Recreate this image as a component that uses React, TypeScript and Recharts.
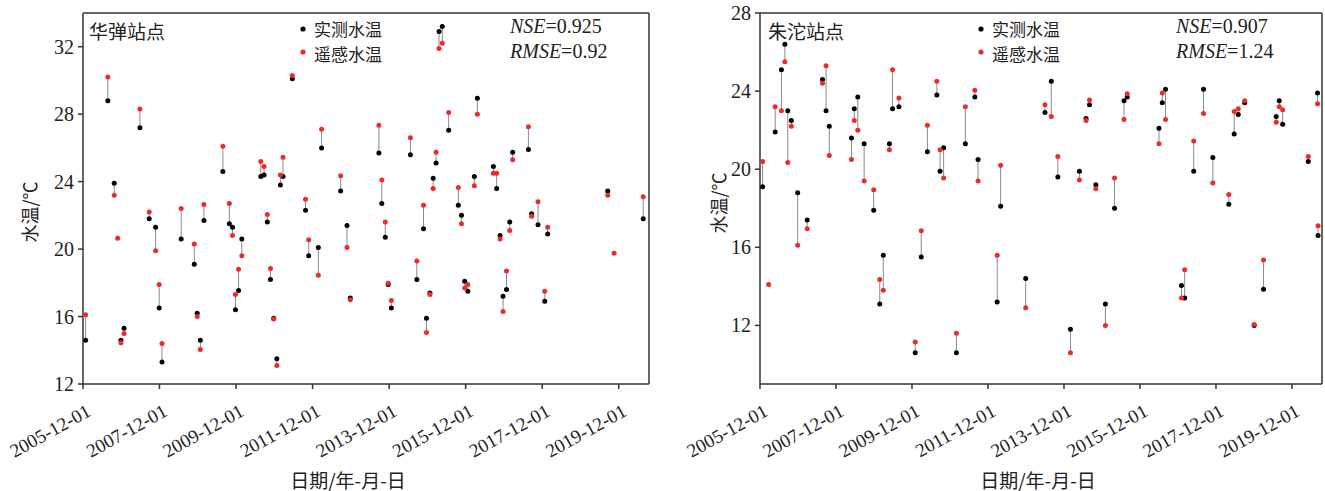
import React from "react";
import {
  ScatterChart,
  Scatter,
  XAxis,
  YAxis,
  ReferenceLine,
} from "recharts";

// 华弹站点
const HUADAN_DATES = [
  "2005-12-26", "2006-07-26", "2006-09-25", "2006-10-28", "2006-11-28", "2006-12-28",
  "2007-05-28", "2007-08-25", "2007-10-25", "2007-11-28", "2007-12-25", "2008-06-25",
  "2008-10-28", "2008-11-25", "2008-12-25", "2009-01-28", "2009-07-28", "2009-09-28",
  "2009-10-28", "2009-11-25", "2009-12-25", "2010-01-25", "2010-07-25", "2010-08-25",
  "2010-09-25", "2010-10-25", "2010-11-25", "2010-12-25", "2011-01-28", "2011-02-22",
  "2011-05-22", "2011-09-25", "2011-10-25", "2012-01-25", "2012-02-25", "2012-08-25",
  "2012-10-25", "2012-11-25", "2013-08-25", "2013-09-22", "2013-10-25", "2013-11-22",
  "2013-12-22", "2014-06-22", "2014-08-22", "2014-10-25", "2014-11-22", "2014-12-25",
  "2015-01-25", "2015-02-22", "2015-03-22", "2015-04-22", "2015-06-22", "2015-09-22",
  "2015-10-22", "2015-11-22", "2015-12-22", "2016-02-22", "2016-03-22", "2016-08-22",
  "2016-09-22", "2016-10-25", "2016-11-22", "2016-12-25", "2017-01-25", "2017-02-22",
  "2017-07-22", "2017-08-22", "2017-10-22", "2017-12-25", "2018-01-22", "2019-08-18",
  "2019-10-18", "2020-07-22",
];
const HUADAN_MEASURED = [
  14.6, 28.8, 23.9, null, 14.6, 15.3,
  27.2, 21.8, 21.3, 16.5, 13.3, 20.6,
  19.1, 16.2, 14.6, 21.7, 24.6, 21.5,
  21.3, 16.4, 17.55, 20.6, 24.3, 24.4,
  21.6, 18.2, 15.9, 13.5, 23.8, 24.3,
  30.1, 22.3, 19.6, 20.1, 26.0, 23.45,
  21.4, 17.1, 25.7, 22.7, 20.7, 17.9,
  16.5, 25.6, 18.2, 21.2, 15.9, 17.4,
  24.2, 25.1, 32.9, 33.2, 27.05, 22.6,
  22.0, 18.1, 17.5, 24.3, 28.95, 24.9,
  23.6, 20.8, 17.2, 17.6, 21.6, 25.75,
  25.9, 22.1, 21.45, 16.9, 20.9, 23.45,
  null, 21.8,
];
const HUADAN_REMOTE = [
  16.1, 30.2, 23.2, 20.65, 14.45, 15.0,
  28.3, 22.2, 19.9, 17.9, 14.4, 22.4,
  20.3, 16.0, 14.05, 22.65, 26.1, 22.7,
  20.8, 17.3, 18.8, 19.6, 25.2, 24.9,
  22.05, 18.85, 15.85, 13.1, 24.4, 25.45,
  30.3, 22.95, 20.55, 18.45, 27.1, 24.35,
  20.1, 17.0, 27.35, 24.1, 21.6, 17.97,
  16.95, 26.6, 19.3, 22.6, 15.05, 17.3,
  23.6, 25.75, 31.9, 32.2, 28.1, 23.65,
  21.5, 17.7, 17.9, 23.75, 28.0, 24.5,
  24.5, 20.6, 16.3, 18.7, 21.1, 25.3,
  27.25, 21.95, 22.8, 17.5, 21.3, 23.2,
  19.75, 23.1,
];

// 朱沱站点
const ZHUTUO_DATES = [
  "2005-12-26", "2006-02-22", "2006-04-26", "2006-06-25", "2006-07-28", "2006-08-25",
  "2006-09-28", "2006-11-28", "2007-02-28", "2007-07-25", "2007-08-28", "2007-09-28",
  "2008-04-28", "2008-05-25", "2008-06-28", "2008-08-28", "2008-11-28", "2009-01-25",
  "2009-02-28", "2009-04-28", "2009-05-28", "2009-07-28", "2010-01-01", "2010-02-28",
  "2010-04-28", "2010-07-28", "2010-08-28", "2010-10-01", "2011-02-01", "2011-04-28",
  "2011-07-28", "2011-08-28", "2012-02-28", "2012-04-01", "2012-11-28", "2013-06-01",
  "2013-08-01", "2013-10-03", "2014-02-01", "2014-04-28", "2014-07-01", "2014-08-03",
  "2014-10-03", "2015-01-03", "2015-04-01", "2015-07-01", "2015-08-01", "2016-06-01",
  "2016-07-03", "2016-08-03", "2017-01-03", "2017-02-03", "2017-05-01", "2017-08-03",
  "2017-11-01", "2018-04-03", "2018-05-25", "2018-07-03", "2018-09-03", "2018-12-03",
  "2019-03-03", "2019-07-03", "2019-08-01", "2019-09-03", "2020-05-06", "2020-08-03",
  "2020-08-08",
];
const ZHUTUO_MEASURED = [
  19.1, null, 21.9, 25.1, 26.4, 23.0,
  22.5, 18.8, 17.4, 24.6, 23.0, 22.2,
  21.6, 23.1, 23.7, 21.3, 17.9, 13.1,
  15.6, 21.3, 23.1, 23.2, 10.6, 15.5,
  20.9, 23.8, 19.9, 21.1, 10.6, 21.3,
  23.7, 20.5, 13.2, 18.1, 14.4, 22.9,
  24.5, 19.6, 11.8, 19.9, 22.6, 23.3,
  19.2, 13.1, 18.0, 23.5, 23.7, 22.1,
  23.4, 24.1, 14.05, 13.4, 19.9, 24.1,
  20.6, 18.2, 21.8, 22.8, 23.4, 12.0,
  13.85, 22.7, 23.5, 22.3, 20.4, 23.9,
  16.6,
];
const ZHUTUO_REMOTE = [
  20.4, 14.1, 23.2, 23.0, 25.5, 20.35,
  22.2, 16.1, 16.95, 24.4, 25.3, 20.7,
  20.5, 22.5, 22.0, 19.4, 18.95, 14.35,
  13.8, 21.0, 25.1, 23.65, 11.15, 16.85,
  22.25, 24.5, 21.0, 19.55, 11.6, 23.2,
  24.05, 19.4, 15.6, 20.2, 12.9, 23.3,
  22.7, 20.65, 10.6, 19.45, 22.5, 23.55,
  19.0, 12.0, 19.55, 22.55, 23.87, 21.3,
  23.9, 22.55, 13.4, 14.85, 21.45, 22.85,
  19.3, 18.7, 22.95, 23.1, 23.5, 12.05,
  15.35, 22.4, 23.2, 23.05, 20.65, 23.35,
  17.1,
];

const DATE_TICKS = [
  "2005-12-01", "2007-12-01", "2009-12-01", "2011-12-01",
  "2013-12-01", "2015-12-01", "2017-12-01", "2019-12-01",
];
const DATE_DOMAIN = ["2005-12-01", "2020-09-15"];
const HUADAN_TEMP_TICKS = [12, 16, 20, 24, 28, 32];
const ZHUTUO_TEMP_TICKS = [12, 16, 20, 24, 28];

const SERIF = "'Liberation Serif', 'Times New Roman', serif";
const CJK = "'Noto Sans CJK SC', sans-serif";
const AXIS = "#333";

function DateTick({ x, y, payload }: any) {
  const label = new Date(payload.value).toISOString().slice(0, 10);
  return (
    <g transform={`translate(${x + 9},${y + 24}) rotate(-29)`}>
      <text textAnchor="end" fontFamily={SERIF} fontSize={19} fill="#222">
        {label}
      </text>
    </g>
  );
}

function TempTick({ x, y, payload }: any) {
  return (
    <text x={x - 2} y={y} dy={7} textAnchor="end" fontFamily={SERIF} fontSize={20} fill="#222">
      {payload.value}
    </text>
  );
}

function StationChart({
  left, width, plotLeft, dates, measured, remote, yDomain, yTicks,
  title, nse, rmse, text,
}: any) {
  const times = dates.map((d: string) => Date.parse(d));
  const measuredPts = times
    .map((t: number, i: number) => ({ t, v: measured[i] }))
    .filter((p: any) => p.v !== null);
  const remotePts = times.map((t: number, i: number) => ({ t, v: remote[i] }));
  const xDomain = DATE_DOMAIN.map((d) => Date.parse(d));

  return (
    <div style={{ position: "absolute", left, top: 0, width, height: 491 }}>
      <ScatterChart
        width={width}
        height={491}
        margin={{ top: 13, right: width - text.plotRight, bottom: 0, left: 0 }}
      >
        <XAxis
          dataKey="t"
          type="number"
          domain={xDomain}
          ticks={DATE_TICKS.map((d) => Date.parse(d))}
          height={107}
          tickSize={5}
          tick={<DateTick />}
          interval={0}
          stroke={AXIS}
          strokeWidth={1.5}
          allowDataOverflow
        />
        <YAxis
          dataKey="v"
          type="number"
          domain={yDomain}
          ticks={yTicks}
          width={plotLeft}
          tickSize={5}
          tick={<TempTick />}
          interval={0}
          stroke={AXIS}
          strokeWidth={1.5}
          allowDataOverflow
        />
        <ReferenceLine y={yDomain[1]} stroke={AXIS} strokeWidth={1.5} />
        <ReferenceLine x={xDomain[1]} stroke={AXIS} strokeWidth={1.5} />
        {times.map((t: number, i: number) =>
          measured[i] === null ? null : (
            <ReferenceLine
              key={i}
              segment={[
                { x: t, y: measured[i] },
                { x: t, y: remote[i] },
              ]}
              stroke="#8a8a8a"
              strokeWidth={1}
            />
          )
        )}
        <Scatter
          data={measuredPts}
          isAnimationActive={false}
          shape={(p: any) => <circle cx={p.cx} cy={p.cy} r={2.5} fill="#000" />}
        />
        <Scatter
          data={remotePts}
          isAnimationActive={false}
          shape={(p: any) => <circle cx={p.cx} cy={p.cy} r={2.5} fill="#ee2a2a" />}
        />
      </ScatterChart>

      <svg
        width={width}
        height={491}
        style={{ position: "absolute", left: 0, top: 0, pointerEvents: "none" }}
      >
        <text x={text.titleX} y={30} dominantBaseline="central" fontFamily={CJK} fontSize={19} fill="#222">
          {title}
        </text>

        <circle cx={text.legendX} cy={29} r={2.6} fill="#000" />
        <text x={text.legendX + 11} y={28.5} dominantBaseline="central" fontFamily={CJK} fontSize={17} fill="#222">
          实测水温
        </text>
        <circle cx={text.legendX} cy={52} r={2.6} fill="#ee2a2a" />
        <text x={text.legendX + 11} y={53} dominantBaseline="central" fontFamily={CJK} fontSize={17} fill="#222">
          遥感水温
        </text>

        <text x={text.statX} y={33} fontFamily={SERIF} fontSize={20} fill="#222">
          <tspan fontStyle="italic">NSE</tspan>={nse}
        </text>
        <text x={text.statX} y={58} fontFamily={SERIF} fontSize={20} fill="#222">
          <tspan fontStyle="italic">RMSE</tspan>={rmse}
        </text>

        <text
          x={text.yLabelX}
          y={text.yLabelY}
          transform={`rotate(-90 ${text.yLabelX} ${text.yLabelY})`}
          textAnchor="middle"
          dominantBaseline="central"
          fontFamily={CJK}
          fontSize={18}
          fill="#222"
        >
          水温/℃
        </text>
        <text
          x={text.xLabelX}
          y={479}
          textAnchor="middle"
          dominantBaseline="central"
          fontFamily={CJK}
          fontSize={19}
          fill="#222"
        >
          日期/年-月-日
        </text>
      </svg>
    </div>
  );
}

export default function App() {
  return (
    <div
      style={{
        position: "absolute",
        left: 0,
        top: 0,
        width: 1325,
        height: 491,
        background: "#fff",
      }}
    >
      <StationChart
        left={0}
        width={660}
        plotLeft={83}
        dates={HUADAN_DATES}
        measured={HUADAN_MEASURED}
        remote={HUADAN_REMOTE}
        yDomain={[12, 34]}
        yTicks={HUADAN_TEMP_TICKS}
        title="华弹站点"
        nse="0.925"
        rmse="0.92"
        text={{
          plotRight: 649,
          titleX: 89,
          legendX: 303,
          statX: 510,
          yLabelX: 29,
          yLabelY: 212,
          xLabelX: 348,
        }}
      />
      <StationChart
        left={660}
        width={665}
        plotLeft={100}
        dates={ZHUTUO_DATES}
        measured={ZHUTUO_MEASURED}
        remote={ZHUTUO_REMOTE}
        yDomain={[9, 28]}
        yTicks={ZHUTUO_TEMP_TICKS}
        title="朱沱站点"
        nse="0.907"
        rmse="1.24"
        text={{
          plotRight: 662,
          titleX: 108,
          legendX: 321,
          statX: 516,
          yLabelX: 58,
          yLabelY: 203,
          xLabelX: 378,
        }}
      />
    </div>
  );
}
